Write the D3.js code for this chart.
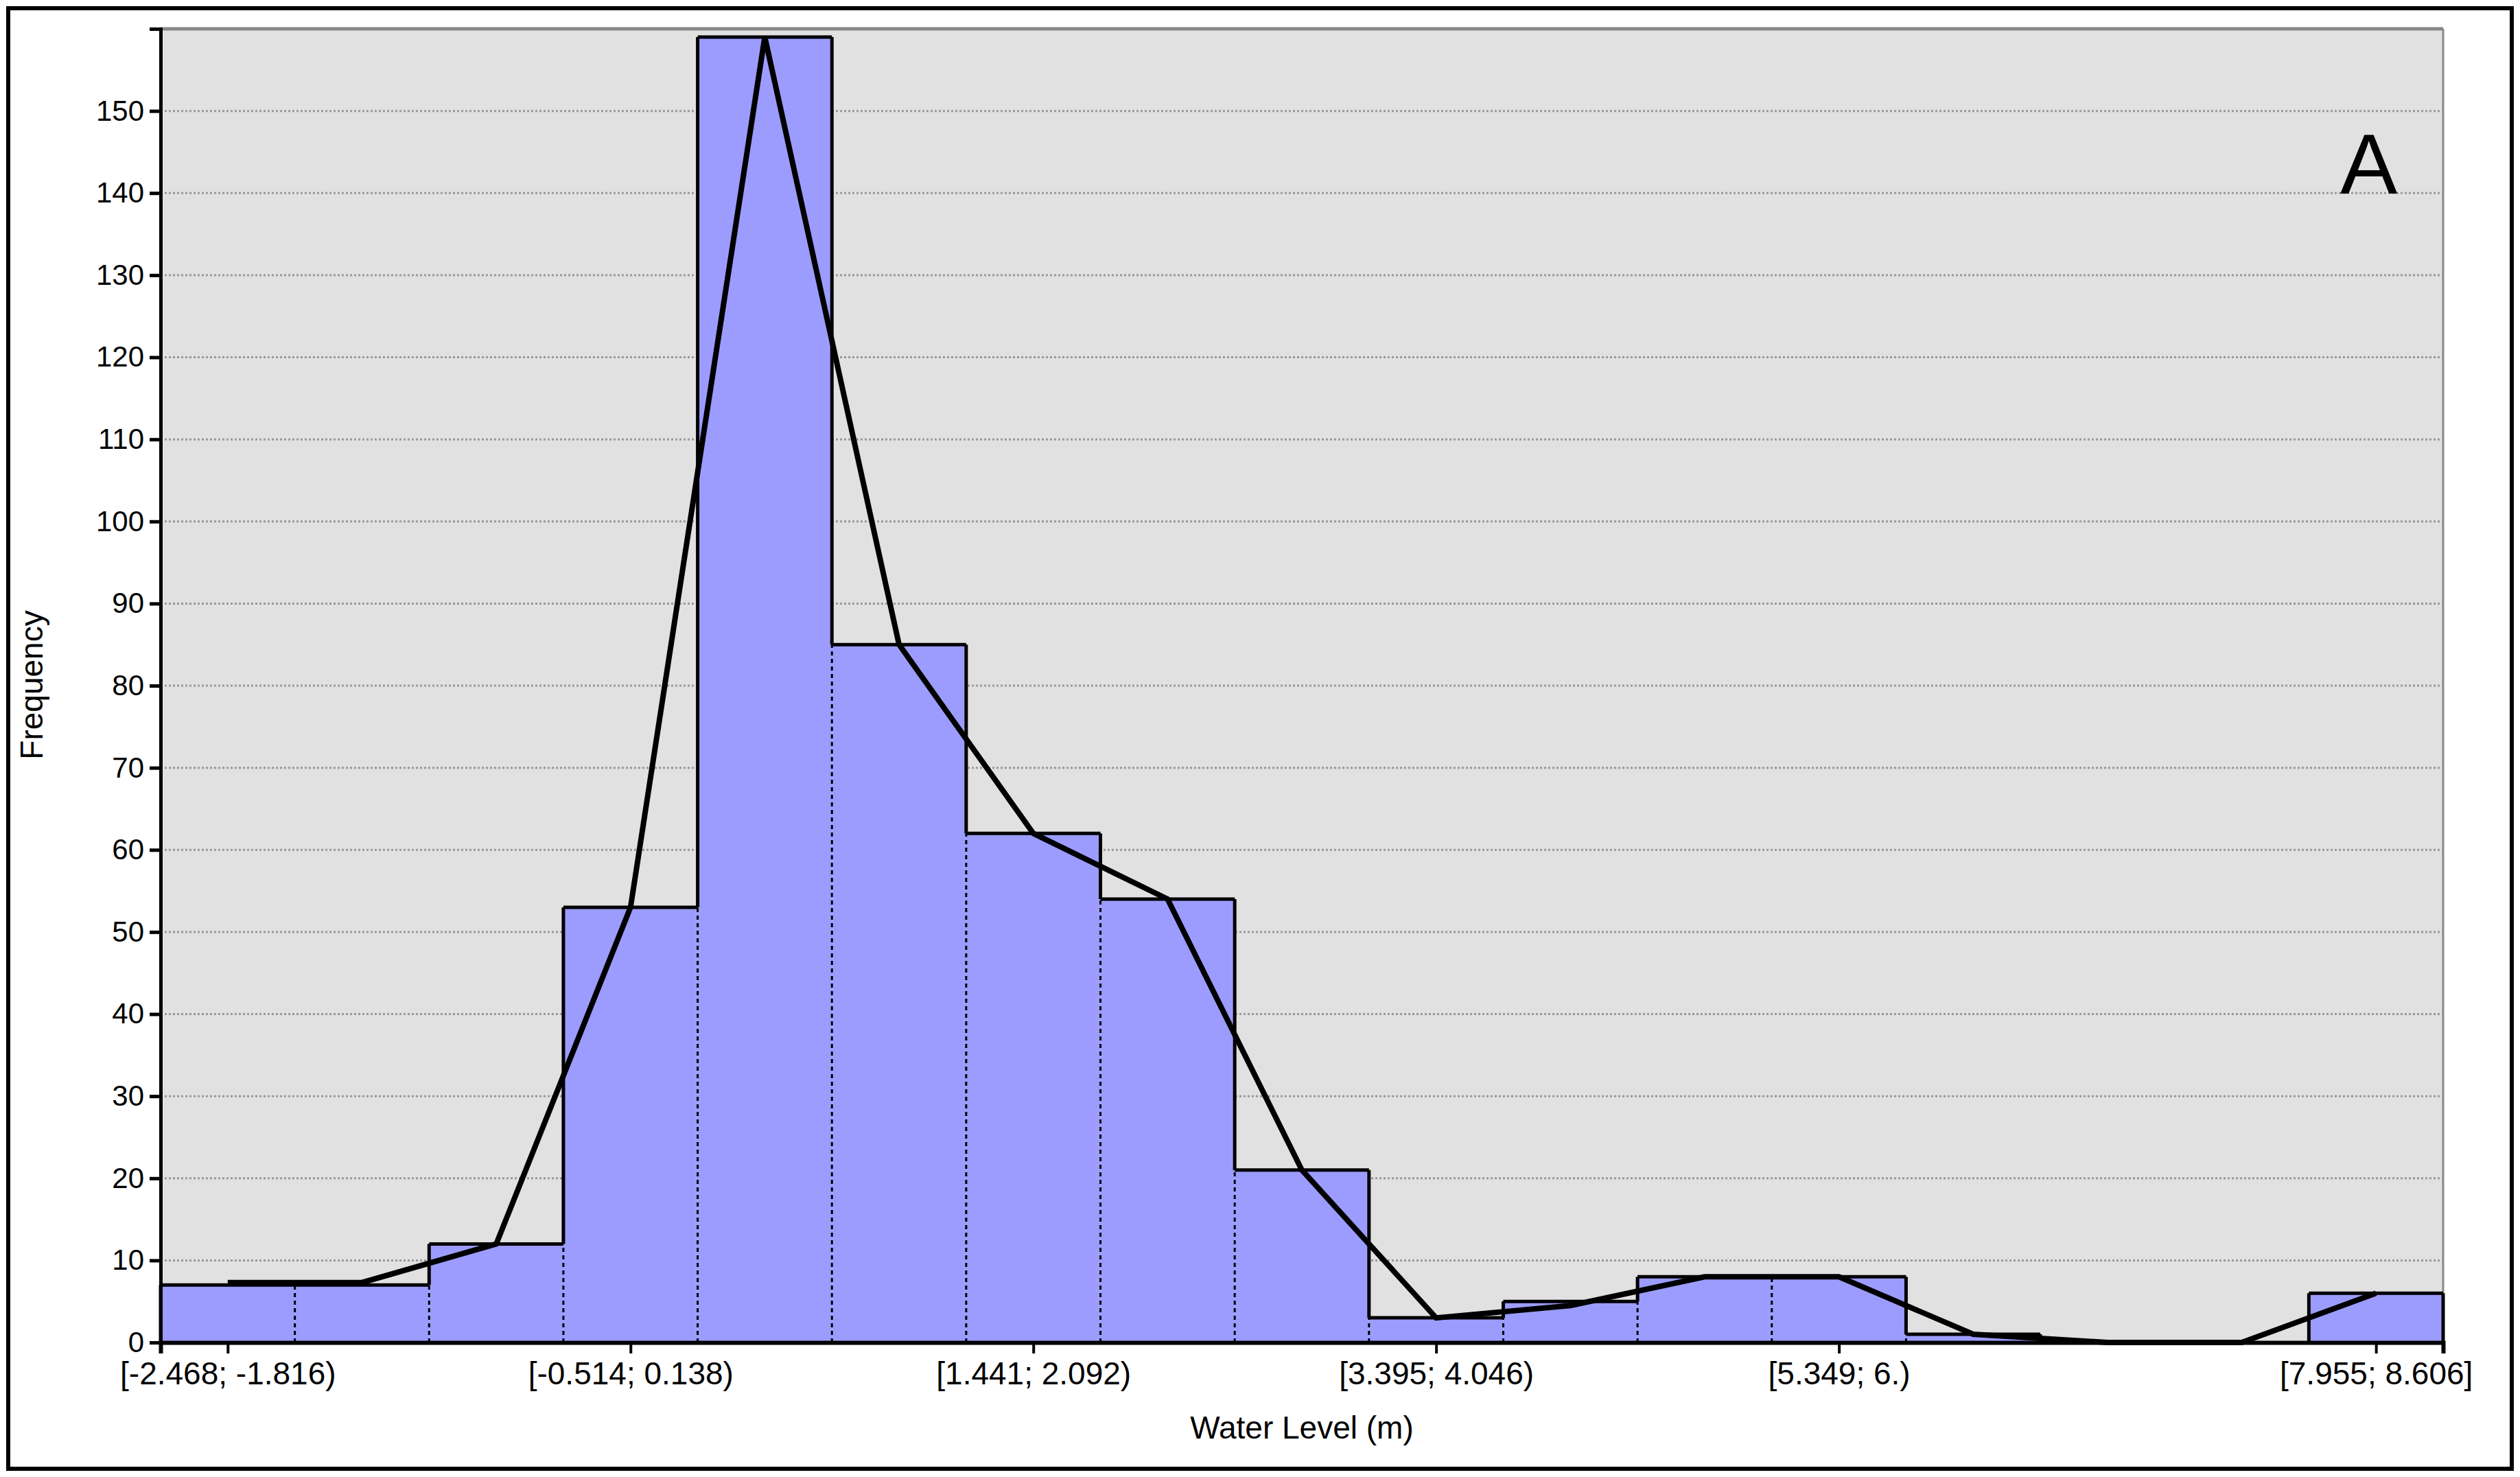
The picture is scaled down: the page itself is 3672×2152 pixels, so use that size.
<!DOCTYPE html><html><head><meta charset="utf-8"><script src="https://cdn.jsdelivr.net/npm/d3@7"></script>
<style>body{margin:0;background:#fff}svg{display:block}</style></head><body><script>
const bins = d3.range(17);
const freq = [7,7,12,53,159,85,62,54,21,3,5,8,8,1,0,0,6];
const polyline = [7.3,7.3,12,53,159,85,62,54,21,3,4.5,8,8,1,0,0,6];
const xLabels = {0:"[-2.468; -1.816)",3:"[-0.514; 0.138)",6:"[1.441; 2.092)",9:"[3.395; 4.046)",12:"[5.349; 6.)",16:"[7.955; 8.606]"};
const yTicks = d3.range(0,151,10);
const W=3672,H=2152, L=234,R=3560,T=42,B=1956;
const font="'Liberation Sans Narrow','Liberation Sans',Arial,sans-serif";
const svg=d3.select("body").append("svg").attr("width",W).attr("height",H);
svg.append("rect").attr("x",12).attr("y",12).attr("width",W-24).attr("height",H-24).attr("fill","#fff").attr("stroke","#000").attr("stroke-width",6);
const x=d3.scaleLinear().domain([0,17]).range([L,R]);
const y=d3.scaleLinear().domain([0,160]).range([B,T]);
svg.append("rect").attr("x",L).attr("y",T).attr("width",R-L).attr("height",B-T).attr("fill","#e1e1e1");
svg.append("line").attr("x1",L).attr("x2",R).attr("y1",T).attr("y2",T).attr("stroke","#888").attr("stroke-width",5);
svg.append("line").attr("x1",R).attr("x2",R).attr("y1",T).attr("y2",B).attr("stroke","#888").attr("stroke-width",3);
svg.selectAll(".g").data(yTicks.slice(1)).join("line").attr("x1",L).attr("x2",R).attr("y1",d=>y(d)).attr("y2",d=>y(d)).attr("stroke","#999").attr("stroke-width",3).attr("stroke-dasharray","3,3");
svg.selectAll(".bar").data(bins).join("rect").attr("x",i=>x(i)).attr("width",i=>x(i+1)-x(i)).attr("y",i=>y(freq[i])).attr("height",i=>B-y(freq[i])).attr("fill","#9c9cff");
bins.forEach(i=>{ if(freq[i]>0) svg.append("line").attr("x1",x(i)).attr("x2",x(i+1)).attr("y1",y(freq[i])).attr("y2",y(freq[i])).attr("stroke","#000").attr("stroke-width",5);});
d3.range(18).forEach(e=>{
  const a = e>0?freq[e-1]:0, b=e<17?freq[e]:0;
  const lo=Math.min(a,b), hi=Math.max(a,b);
  if(hi>lo) svg.append("line").attr("x1",x(e)).attr("x2",x(e)).attr("y1",y(lo)).attr("y2",y(hi)).attr("stroke","#000").attr("stroke-width",5);
  if(lo>0) svg.append("line").attr("x1",x(e)).attr("x2",x(e)).attr("y1",y(0)).attr("y2",y(lo)).attr("stroke","#000").attr("stroke-width",3).attr("stroke-dasharray","6,5");
});
const line=d3.line().x((d,i)=>x(i+0.5)).y(d=>y(d));
svg.append("path").attr("d",line(polyline)).attr("fill","none").attr("stroke","#000").attr("stroke-width",8);
const ya=svg.append("g").attr("transform",`translate(${L},0)`).call(d3.axisLeft(y).tickValues(yTicks).tickSize(16).tickPadding(8));
ya.select(".domain").attr("stroke-width",5);
ya.selectAll(".tick line").attr("stroke-width",5);
ya.selectAll("text").attr("font-family",font).attr("font-size",42).attr("fill","#000");
const xa=svg.append("g").attr("transform",`translate(0,${B})`).call(d3.axisBottom(x).tickValues(Object.keys(xLabels).map(k=>+k+0.5)).tickFormat(v=>xLabels[v-0.5]).tickSize(16).tickPadding(12));
xa.select(".domain").attr("stroke-width",6);
xa.selectAll(".tick line").attr("stroke-width",4);
xa.selectAll("text").attr("font-family",font).attr("font-size",46).attr("fill","#000");
svg.append("text").attr("x",(L+R)/2).attr("y",2096).attr("text-anchor","middle").attr("font-family",font).attr("font-size",46).text("Water Level (m)");
svg.append("text").attr("transform","translate(62,998) rotate(-90)").attr("text-anchor","middle").attr("font-family",font).attr("font-size",46).text("Frequency");
svg.append("text").attr("x",3410).attr("y",282).attr("font-family","'Liberation Sans',Arial,sans-serif").attr("font-size",125).text("A");
</script></body></html>
